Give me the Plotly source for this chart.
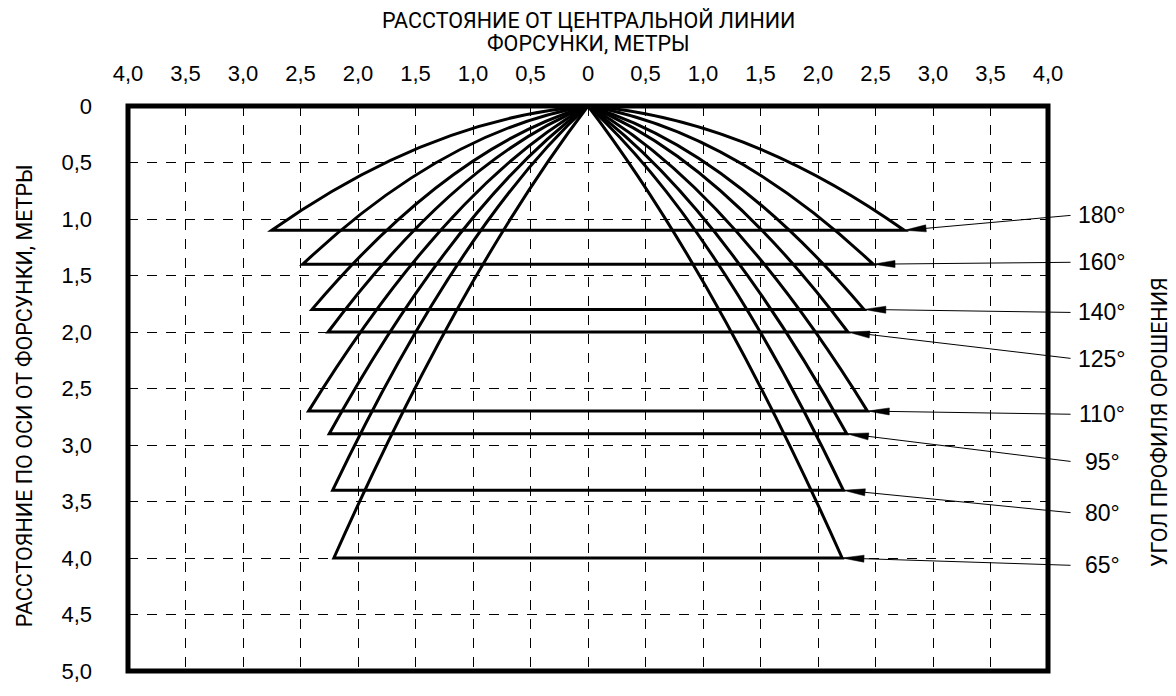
import math
import plotly.graph_objects as go

# ---------------- data ----------------
angles = [180, 160, 140, 125, 110, 95, 80, 65]            # spray angle, degrees
depth = [1.10, 1.40, 1.80, 2.00, 2.70, 2.90, 3.40, 4.00]  # coverage depth, m
half_width = [2.75, 2.48, 2.40, 2.26, 2.43, 2.25, 2.22, 2.21]  # half coverage width, m
bend_depth = [0.11, 0.21, 0.36, 0.46, 0.70, 0.84, 1.03, 1.48]  # depth of curve control point, m
label_y = [0.967, 1.383, 1.827, 2.235, 2.728, 3.147, 3.600, 4.065]  # label / leader tail depth, m

x_tick_vals = [-4.0, -3.5, -3.0, -2.5, -2.0, -1.5, -1.0, -0.5, 0.0,
               0.5, 1.0, 1.5, 2.0, 2.5, 3.0, 3.5, 4.0]
x_tick_text = ["4,0", "3,5", "3,0", "2,5", "2,0", "1,5", "1,0", "0,5", "0",
               "0,5", "1,0", "1,5", "2,0", "2,5", "3,0", "3,5", "4,0"]
y_tick_vals = [0.0, 0.5, 1.0, 1.5, 2.0, 2.5, 3.0, 3.5, 4.0, 4.5, 5.0]
y_tick_text = ["0", "0,5", "1,0", "1,5", "2,0", "2,5", "3,0", "3,5", "4,0", "4,5", "5,0"]

title_top = ["РАССТОЯНИЕ ОТ ЦЕНТРАЛЬНОЙ ЛИНИИ", "ФОРСУНКИ, МЕТРЫ"]
title_left = "РАССТОЯНИЕ ПО ОСИ ОТ ФОРСУНКИ, МЕТРЫ"
title_right = "УГОЛ ПРОФИЛЯ ОРОШЕНИЯ"

# ---------------- styling constants ----------------
TICK_FONT = "Liberation Sans, Arial, sans-serif"
TITLE_FONT = "Roboto, Open Sans, sans-serif"
LEADER_X = 4.209     # x (data units) where leader lines start
LABEL_X = 1.059      # x (paper units) of label centres
HEAD_LEN = 0.19      # arrowhead length, data units
HEAD_HALF = 0.031    # arrowhead half width, data units
TITLE_SIZE = 21.5

fig = go.Figure()
fig.add_trace(go.Scatter(x=[0], y=[0], mode="markers", marker=dict(opacity=0),
                         showlegend=False, hoverinfo="skip"))

shapes = []
annotations = []

for a, d, w, c, ly in zip(angles, depth, half_width, bend_depth, label_y):
    # spray profile: two curved flanks from the nozzle and a flat bottom
    path = (f"M {-w},{d} Q {-w / 2},{c} 0,0 Q {w / 2},{c} {w},{d} Z")
    shapes.append(dict(type="path", xref="x", yref="y", path=path,
                       line=dict(color="black", width=3),
                       fillcolor="rgba(0,0,0,0)", layer="above"))
    # leader line
    annotations.append(dict(x=w, y=d, xref="x", yref="y",
                            ax=LEADER_X, ay=ly, axref="x", ayref="y",
                            text="", showarrow=True, arrowhead=0,
                            arrowwidth=1, arrowcolor="black", standoff=0))
    # arrowhead triangle
    dx, dy = LEADER_X - w, ly - d
    n = math.hypot(dx, dy)
    ux, uy = dx / n, dy / n
    bx, by = w + ux * HEAD_LEN, d + uy * HEAD_LEN
    px_, py_ = -uy * HEAD_HALF, ux * HEAD_HALF
    tri = (f"M {w},{d} L {bx + px_},{by + py_} L {bx - px_},{by - py_} Z")
    shapes.append(dict(type="path", xref="x", yref="y", path=tri,
                       line=dict(color="black", width=0.5),
                       fillcolor="black", layer="above"))
    # label (paper x, data y)
    annotations.append(dict(x=LABEL_X, y=ly, xref="paper", yref="y",
                            text=f"{a}°", showarrow=False,
                            xanchor="center", yanchor="middle",
                            font=dict(family=TICK_FONT, size=23, color="black")))

# frame
shapes.append(dict(type="rect", xref="paper", yref="paper", x0=0, x1=1, y0=0, y1=1,
                   line=dict(color="black", width=5), layer="above"))

# titles
annotations.append(dict(x=0.5, y=1.1506, xref="paper", yref="paper",
                        text=title_top[0], showarrow=False, xanchor="center",
                        yanchor="middle",
                        font=dict(family=TITLE_FONT, size=TITLE_SIZE, color="black")))
annotations.append(dict(x=0.5, y=1.1105, xref="paper", yref="paper",
                        text=title_top[1], showarrow=False, xanchor="center",
                        yanchor="middle",
                        font=dict(family=TITLE_FONT, size=TITLE_SIZE, color="black")))
annotations.append(dict(x=-0.1131, y=0.488, xref="paper", yref="paper",
                        text=title_left, showarrow=False, textangle=-90,
                        xanchor="center", yanchor="middle",
                        font=dict(family=TITLE_FONT, size=TITLE_SIZE, color="black")))
annotations.append(dict(x=1.1214, y=0.44, xref="paper", yref="paper",
                        text=title_right, showarrow=False, textangle=-90,
                        xanchor="center", yanchor="middle",
                        font=dict(family=TITLE_FONT, size=TITLE_SIZE, color="black")))

fig.update_layout(
    width=1168, height=688,
    margin=dict(l=120, r=128, t=98, b=16, pad=0),
    paper_bgcolor="white", plot_bgcolor="white",
    showlegend=False,
    shapes=shapes, annotations=annotations,
    xaxis=dict(range=[-4, 4], side="top", tickmode="array",
               tickvals=x_tick_vals, ticktext=x_tick_text,
               showgrid=True, gridcolor="black", gridwidth=1, griddash="10px,9px",
               zeroline=False, showline=False, ticks="", ticklabelstandoff=20,
               tickfont=dict(family=TICK_FONT, size=22, color="black"),
               fixedrange=True),
    yaxis=dict(range=[5, 0], tickmode="array",
               tickvals=y_tick_vals, ticktext=y_tick_text,
               showgrid=True, gridcolor="black", gridwidth=1, griddash="10px,9px",
               zeroline=False, showline=False, ticks="", ticklabelstandoff=35,
               tickfont=dict(family=TICK_FONT, size=22, color="black"),
               fixedrange=True),
)

fig.write_html("out.html")
